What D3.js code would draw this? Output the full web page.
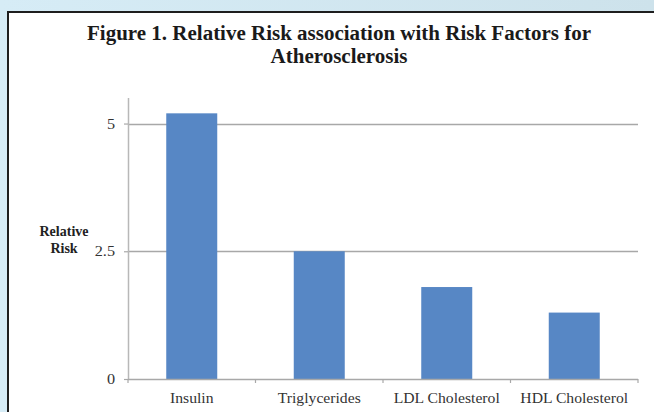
<!DOCTYPE html>
<html><head><meta charset="utf-8">
<script src="https://cdn.jsdelivr.net/npm/d3@7"></script>
<style>html,body{margin:0;padding:0;background:#d2e7f0;}svg{display:block;}</style>
</head><body>
<script>
const categories = ["Insulin", "Triglycerides", "LDL Cholesterol", "HDL Cholesterol"];
const values = [5.2, 2.5, 1.8, 1.3];
const yTicks = [0, 2.5, 5];
const yTickLabels = ["0", "2.5", "5"];
const titleLines = ["Figure 1. Relative Risk association with Risk Factors for", "Atherosclerosis"];
const yAxisLabel = ["Relative", "Risk"];

(function () {
const W = 654, H = 412;
const FONT = "Liberation Serif, Times New Roman, serif";
const svg = d3.select("body").append("svg").attr("width", W).attr("height", H);

const defs = svg.append("defs");
const grad = defs.append("linearGradient").attr("id", "bg").attr("x1", 0).attr("y1", 0).attr("x2", 1).attr("y2", 0);
grad.append("stop").attr("offset", 0).attr("stop-color", "#d6ecf6");
grad.append("stop").attr("offset", 1).attr("stop-color", "#cde2eb");
svg.append("rect").attr("width", W).attr("height", H).attr("fill", "url(#bg)");

// white panel
svg.append("rect").attr("x", 8).attr("y", 12).attr("width", W + 10).attr("height", H + 10)
  .attr("fill", "#ffffff").attr("stroke", "#1e1e1e").attr("stroke-width", 2);

const pL = 128, pR = 638, pT = 98, pB = 379;
const x = d3.scaleBand().domain(categories).range([pL, pR]).paddingInner(0.6).paddingOuter(0.3);
const xb = d3.scaleBand().domain(categories).range([pL, pR]);
const y = d3.scaleLinear().domain([0, 5.5]).range([pB, pT]);

// gridlines
svg.append("g").selectAll("line").data(yTicks.filter(d => d > 0)).join("line")
  .attr("x1", pL).attr("x2", pR)
  .attr("y1", d => Math.round(y(d)) + 0.5).attr("y2", d => Math.round(y(d)) + 0.5)
  .attr("stroke", "#a8a8a8").attr("stroke-width", 1.5);

// bars
svg.append("g").selectAll("rect").data(values).join("rect")
  .attr("x", (d, i) => x(categories[i]))
  .attr("width", x.bandwidth())
  .attr("y", d => y(d))
  .attr("height", d => y(0) - y(d))
  .attr("fill", "#5787c5");

const sx = 1.12;
// y axis
const yAxis = d3.axisLeft(y).tickValues(yTicks).tickFormat((d, i) => yTickLabels[i]).tickSize(4).tickPadding(9);
const gy = svg.append("g").attr("transform", `translate(${pL},0)`).call(yAxis);
gy.select(".domain").attr("stroke", "#b8b8b8").attr("stroke-width", 1.5).attr("d", `M0.5,${pT}V${pB}`);
gy.selectAll(".tick line").attr("stroke", "#a8a8a8").attr("stroke-width", 1.2);
gy.selectAll(".tick text").attr("font-family", FONT).attr("font-size", 14.5).attr("fill", "#333")
  .attr("x", -13 / sx).attr("transform", `scale(${sx},1)`);

// x axis
const xAxis = d3.axisBottom(xb).tickSize(0).tickPadding(14);
const gx = svg.append("g").attr("transform", `translate(0,${pB})`).call(xAxis);
gx.select(".domain").attr("stroke", "#a8a8a8").attr("stroke-width", 1.5).attr("d", `M${pL},0.5H${pR}`);
gx.selectAll(".tick text").attr("font-family", FONT).attr("font-size", 14).attr("fill", "#333")
  .attr("transform", `scale(${sx},1)`);
const bounds = categories.map(c => xb(c)).concat([pR]);
gx.append("g").selectAll("line").data(bounds).join("line")
  .attr("x1", d => d).attr("x2", d => d).attr("y1", 0).attr("y2", 4)
  .attr("stroke", "#a8a8a8").attr("stroke-width", 1.2);

// y axis label
svg.append("text").attr("x", 64).attr("y", 236).attr("text-anchor", "middle")
  .attr("font-family", FONT).attr("font-weight", "bold").attr("font-size", 14).attr("fill", "#222")
  .selectAll("tspan").data(yAxisLabel).join("tspan")
  .attr("x", 64).attr("dy", (d, i) => i === 0 ? 0 : 16.5).text(d => d);

// title
svg.append("g").selectAll("text").data(titleLines).join("text")
  .attr("transform", (d, i) => `translate(339,${40 + i * 23}) scale(1.05,1)`)
  .attr("text-anchor", "middle")
  .attr("font-family", FONT).attr("font-weight", "bold").attr("font-size", 20)
  .attr("fill", "#1a1a1a")
  .text(d => d);
})();
</script>
</body></html>
